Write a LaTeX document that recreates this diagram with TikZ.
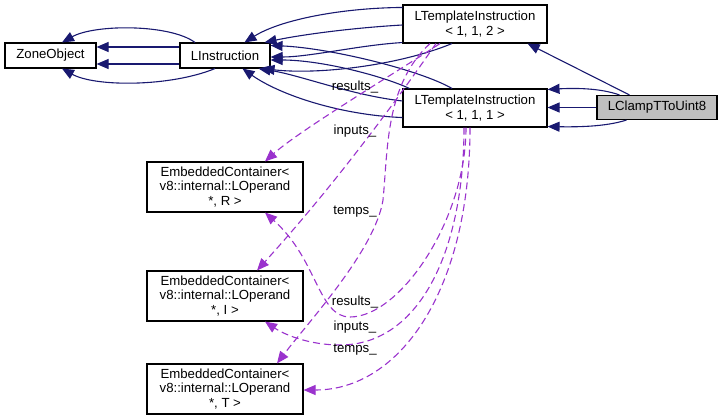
\documentclass[tikz,border=0pt]{standalone}
\usepackage{fontspec}
\setmainfont{Liberation Sans}
\usetikzlibrary{arrows.meta,calc}
\definecolor{navyedge}{HTML}{191970}
\definecolor{orchidedge}{HTML}{9A32CD}
\definecolor{graybox}{HTML}{BFBFBF}
\begin{document}
\begin{tikzpicture}[x=1pt,y=-1pt,
  font=\fontsize{13.2}{14.5}\selectfont,
  cls/.style={draw=black,line width=1.1pt,fill=white,align=center,inner sep=0pt},
  inh/.style={draw=navyedge,line width=1.1pt,-{Triangle[length=12pt,width=10pt]}},
  usg/.style={draw=orchidedge,line width=1.1pt,dash pattern=on 7pt off 4pt,-{Triangle[length=12pt,width=10pt]}},
  lbl/.style={inner sep=0pt,anchor=center}]
\useasboundingbox (0,0) rectangle (723,420);

% nodes
\node[cls,minimum width=91pt,minimum height=25pt] (zo) at (50.5,55.5) {ZoneObject};
\node[cls,minimum width=90pt,minimum height=25pt] (li) at (225,55.5) {LInstruction};
\node[cls,minimum width=144pt,minimum height=38pt] (lt2) at (475,24) {LTemplateInstruction\\{}< 1, 1, 2 >};
\node[cls,minimum width=144pt,minimum height=38pt] (lt1) at (475,108) {LTemplateInstruction\\{}< 1, 1, 1 >};
\node[cls,fill=graybox,minimum width=120pt,minimum height=24pt] (lc) at (657,107.5) {LClampTToUint8};
\node[cls,minimum width=156pt,minimum height=50pt] (ecr) at (225,187) {EmbeddedContainer<\\v8::internal::LOperand\\*, R >};
\node[cls,minimum width=156pt,minimum height=50pt] (eci) at (225,296) {EmbeddedContainer<\\v8::internal::LOperand\\*, I >};
\node[cls,minimum width=156pt,minimum height=50pt] (ect) at (225,389) {EmbeddedContainer<\\v8::internal::LOperand\\*, T >};

% LInstruction -> ZoneObject
\draw[inh] ($(li.north)+(-30,0)$) .. controls (170,24) and (95,24) .. ($(zo.north)+(11.5,0)$);
\draw[inh] ($(li.west)+(0,-8.5)$) -- ($(zo.east)+(0,-8.5)$);
\draw[inh] ($(li.west)+(0,8.5)$) -- ($(zo.east)+(0,8.5)$);
\draw[inh] ($(li.south)+(-10,0)$) .. controls (170,87) and (95,87) .. ($(zo.south)+(11.5,0)$);

% templates -> LInstruction
\draw[inh] ($(lt2.north west)+(0,3)$) .. controls (340,8) and (280,20) .. ($(li.north west)+(65,0)$);
\draw[inh] ($(lt2.west)+(0,1)$) .. controls (350,28) and (300,35) .. ($(li.north east)+(-6,0)$);
\draw[inh] ($(lt2.south west)+(0,-1)$) .. controls (360,45) and (310,57) .. ($(li.east)+(0,1.5)$);
\draw[inh] ($(lt2.south)+(-23,0)$) .. controls (400,65) and (320,75) .. ($(li.south east)+(-8,0)$);
\draw[inh] ($(lt1.north)+(-23,0)$) .. controls (420,70) and (330,48) .. ($(li.north east)+(0,3)$);
\draw[inh] ($(lt1.north west)+(7,0)$) .. controls (380,75) and (320,60) .. ($(li.east)+(0,4.5)$);
\draw[inh] ($(lt1.west)+(0,-7)$) .. controls (350,95) and (300,75) .. ($(li.south east)+(-12,0)$);
\draw[inh] ($(lt1.south west)+(0,-10)$) .. controls (340,115) and (280,95) .. ($(li.south west)+(63,0)$);

% LClampTToUint8 -> templates
\draw[inh] ($(lc.north west)+(33,0)$) -- ($(lt2.south east)+(-20,0)$);
\draw[inh] ($(lc.north west)+(23,0)$) .. controls (600,88) and (575,88) .. ($(lt1.north east)+(0,1)$);
\draw[inh] (lc.west) -- (lt1.east |- lc.west);
\draw[inh] ($(lc.south west)+(30,0)$) .. controls (605,127) and (575,127) .. ($(lt1.south east)+(0,-1)$);

% usage edges from LTemplateInstruction<1,1,2>
\draw[usg] ($(lt2.south)+(-35,0)$) .. controls (400,70) and (300,130) .. ($(ecr.north)+(40,0)$);
\draw[usg] ($(lt2.south)+(-39,0)$) .. controls (390,110) and (330,190) .. ($(eci.north)+(32,0)$);
\draw[usg] ($(lt2.south)+(-45,0)$) .. controls (385,85) and (388,150) .. (383,200) .. controls (375,250) and (310,320) .. ($(ect.north)+(52,0)$);

% usage edges from LTemplateInstruction<1,1,1>
\draw[usg] ($(lt1.south)+(-9,0)$) .. controls (466,220) and (400,317) .. (350,317) .. controls (318,317) and (318,260) .. ($(ecr.south)+(40,0)$);
\draw[usg] ($(lt1.south)+(-11,0)$) .. controls (464,250) and (420,345) .. (340,345) .. controls (310,345) and (285,335) .. ($(eci.south)+(40,0)$);
\draw[usg] ($(lt1.south)+(-5,0)$) .. controls (470,290) and (400,390) .. ($(ect.east)+(0,1)$);

% labels
\node[lbl] (l1) at (355,87) {results\_};
\node[lbl] (l2) at (355,131) {inputs\_};
\node[lbl] (l3) at (355,212) {temps\_};
\node[lbl] (l4) at (355,302) {results\_};
\node[lbl] (l5) at (355,327) {inputs\_};
\node[lbl] (l6) at (355,350) {temps\_};
\end{tikzpicture}
\end{document}
